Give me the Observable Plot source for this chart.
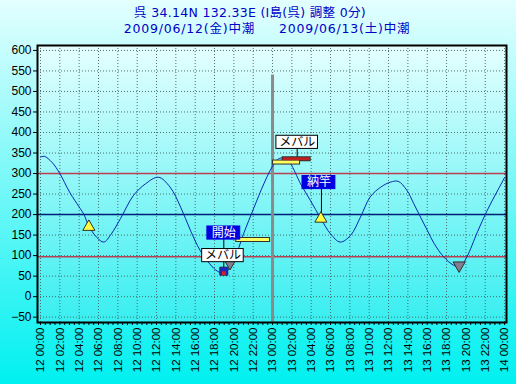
<!DOCTYPE html>
<html><head><meta charset="utf-8">
<script src="https://cdn.jsdelivr.net/npm/d3@7"></script>
<script src="https://cdn.jsdelivr.net/npm/@observablehq/plot@0.6"></script>
<style>
html,body{margin:0;padding:0;}
body{width:516px;height:384px;background:linear-gradient(#e4ffff,#00f0f0);overflow:hidden;font-family:"Noto Sans CJK JP",sans-serif;}
#title{height:40px;text-align:center;color:#0000c8;font-size:12.5px;padding-top:5px;box-sizing:border-box;white-space:pre;letter-spacing:0.3px;font-family:"DejaVu Sans","Noto Sans CJK JP",sans-serif;}
#title div{height:16px;line-height:16px;}
#chart svg{display:block;}
</style></head><body>
<div id="title"><div style="padding-right:16px">呉 34.14N 132.33E (I島(呉) 調整 0分)</div><div style="padding-left:18px;letter-spacing:0.8px">2009/06/12(金)中潮     2009/06/13(土)中潮</div></div>
<div id="chart"></div>
<script>
// hours since 2009/06/12 00:00
const tideHours  = [0,0.4,1.2,2.0,3.0,4.1,4.5,5.0,5.8,6.55,7.3,8.27,9.6,10.86,12.2,13.4,14.5,15.5,16.5,17.5,18.3,19.0,20.0,21.0,22.1,23.1,24.0,24.5,25.0,25.4,25.85,26.9,27.9,29.0,30.0,31.0,32.06,33.1,34.1,35.2,36.2,37.0,37.9,38.6,39.3,40.0,40.7,41.7,42.7,43.4,44.1,45.2,46.2,47.2,48.0];
const tideLevels = [340,342,327,300,255,215,200,172,145,133,152,190,246,275,291,267,218,162,113,80,62,57,89,153,218,275,318,334,338,333,324,275,235,190,153,133,149,194,243,267,279,281,259,227,194,162,130,97,77,73,97,158,210,255,290];

const yTicks = d3.range(-50, 601, 50);
const xTicks = d3.range(0, 49, 2);
const redLevels = [300, 97];
const blueLevels = [200];
const boundaryHours = [24];
const boundaryTop = 540;

const triUpHours = [5.0, 29.0];
const triUpLevels = [170, 190];
const triDownHours = [43.3, 19.6];
const triDownLevels = [76, 82];
const catchHours = [18.96];
const catchLevels = [62];

const labelTexts  = ["開始", "メバル", "メバル", "納竿"];
const labelKinds  = ["event", "fish", "fish", "event"];
const labelHours  = [18.96, 18.87, 26.55, 28.8];
const labelLevels = [155, 100, 376, 278];

const barKinds  = ["start", "start", "catch"];
const barStarts = [20.2, 24.0, 25.0];
const barEnds   = [23.8, 26.9, 28.0];
const barLevels = [139, 328, 336];

const linkHours = [18.96, 26.55, 29.06];
const linkTops  = [150, 370, 272];
const linkBottoms = [66, 336, 194];

const tide = tideHours.map((h, i) => ({h, v: tideLevels[i]}));
const labels = labelTexts.map((t, i) => {
  const w = t.length === 2 ? 3.4 : 4.3;
  return {t, kind: labelKinds[i], h: labelHours[i], v: labelLevels[i], x1: labelHours[i] - w / 2, x2: labelHours[i] + w / 2, y1: labelLevels[i] - 16, y2: labelLevels[i] + 16};
});
const bars = barKinds.map((k, i) => ({k, x1: barStarts[i], x2: barEnds[i], y: barLevels[i]}));
const links = linkHours.map((h, i) => ({h, y1: linkTops[i], y2: linkBottoms[i]}));
const upT = triUpHours.map((h, i) => ({h, v: triUpLevels[i]}));
const downT = triDownHours.map((h, i) => ({h, v: triDownLevels[i]}));
const catches = catchHours.map((h, i) => ({h, v: catchLevels[i]}));

const pad = n => String(n).padStart(2, "0");
const fmt = d => `${12 + Math.floor(d / 24)} ${pad(d % 24)}:00`;
const font = "Liberation Sans";

const chart = Plot.plot({
  width: 516, height: 344,
  marginLeft: 37, marginRight: 10, marginTop: 5, marginBottom: 62,
  style: {background: "transparent", fontFamily: font, fontSize: "12px", color: "#000"},
  x: {domain: [-0.31, 48.2]},
  y: {domain: [-63, 612]},
  marks: [
    Plot.frame({fill: "url(#plotbg)"}),
    Plot.gridY({ticks: yTicks, stroke: "#406060", strokeOpacity: 0.9, strokeDasharray: "1,2"}),
    Plot.gridX({ticks: xTicks, stroke: "#406060", strokeOpacity: 0.9, strokeDasharray: "1,2"}),
    Plot.ruleY(redLevels, {stroke: "#b84050", strokeWidth: 1.5}),
    Plot.ruleY(blueLevels, {stroke: "#00207a", strokeWidth: 1.5}),
    Plot.ruleX(boundaryHours, {y1: -63, y2: boundaryTop, stroke: "#8a8a8a", strokeWidth: 3}),
    Plot.line(tide, {x: "h", y: "v", stroke: "#0828b0", strokeWidth: 1, curve: "catmull-rom"}),
    Plot.ruleX(links, {x: "h", y1: "y1", y2: "y2", stroke: "#000", strokeWidth: 1}),
    Plot.ruleY(bars, {x1: "x1", x2: "x2", y: "y", stroke: "#303030", strokeWidth: 5}),
    Plot.ruleY(bars, {x1: "x1", x2: "x2", y: "y", stroke: d => d.k === "start" ? "#ffff60" : "#c02020", strokeWidth: 3, inset: 1}),
    Plot.dot(downT, {x: "h", y: "v", symbol: "triangle", r: 4.5, rotate: 180, fill: "#808090", stroke: "#303030", strokeWidth: 1}),
    Plot.dot(upT, {x: "h", y: "v", symbol: "triangle", r: 4.5, fill: "#ffff40", stroke: "#303030", strokeWidth: 1}),
    Plot.dot(catches, {x: "h", y: "v", symbol: "square", r: 4.5, fill: "#1828c0", stroke: "#202060", strokeWidth: 1}),
    Plot.dot(catches, {x: "h", y: "v", symbol: "square", r: 2.2, dy: 2, fill: "#d02020"}),
    Plot.rect(labels, {x1: "x1", x2: "x2", y1: "y1", y2: "y2", fill: d => d.kind === "event" ? "#0000e0" : "#ffffff", stroke: d => d.kind === "event" ? "#0000e0" : "#000"}),
    Plot.text(labels, {x: "h", y: "v", text: "t", fill: d => d.kind === "event" ? "#fff" : "#000", fontSize: 12, fontFamily: "Noto Sans CJK JP"}),
    Plot.frame({stroke: "#000", strokeWidth: 2}),
    Plot.axisY({ticks: yTicks, tickSize: 4, tickPadding: 2, label: null, fontSize: 12}),
    Plot.axisX({ticks: xTicks, tickFormat: fmt, tickRotate: -90, tickSize: 0, tickPadding: 5, label: null, fontSize: 11.5}),
    Plot.axisX({ticks: d3.range(0, 48.01, 0.5), tickFormat: () => "", tickSize: 3, label: null})
  ]
});
const defs = document.createElementNS("http://www.w3.org/2000/svg", "defs");
defs.innerHTML = '<linearGradient id="plotbg" x1="0" y1="0" x2="0" y2="1"><stop offset="0" stop-color="#e6ffff"/><stop offset="1" stop-color="#38eef0"/></linearGradient>';
chart.insertBefore(defs, chart.firstChild);
document.getElementById("chart").appendChild(chart);
</script>
</body></html>
